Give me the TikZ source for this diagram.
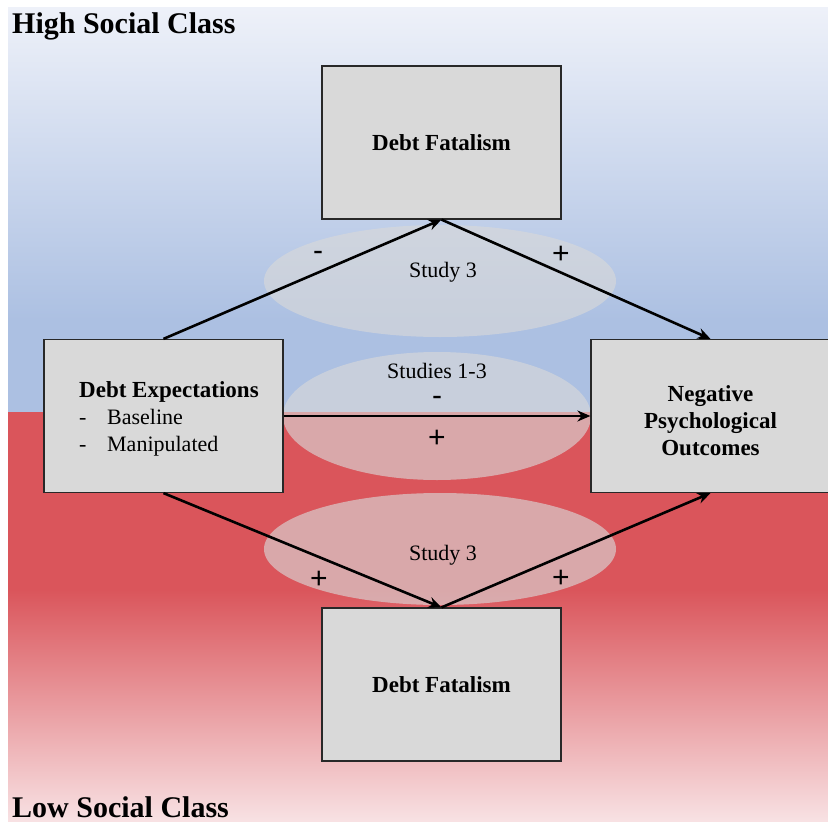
\documentclass[tikz,border=0pt]{standalone}
\usepackage{fontspec}
\setmainfont{Liberation Serif}
\newfontfamily\signfont{Liberation Sans}
\usetikzlibrary{arrows.meta}
\definecolor{bgtop}{RGB}{238,241,249}
\definecolor{bgblue}{RGB}{172,192,226}
\definecolor{bgred}{RGB}{218,85,91}
\definecolor{bgpink}{RGB}{248,226,228}
\definecolor{boxgray}{RGB}{217,217,217}
\definecolor{boxline}{RGB}{40,40,40}
\tikzset{
  box/.style={draw=boxline, line width=1.2pt, fill=boxgray, minimum width=239pt, minimum height=153pt, inner sep=0pt, align=center, font=\fontsize{23}{27}\selectfont\bfseries},
  halo/.style={fill=boxgray, fill opacity=0.63},
  link/.style={line width=2.6pt, -{Stealth[length=13pt,width=11pt]}},
  lbl/.style={font=\fontsize{22}{27}\selectfont, inner sep=0pt},
  sign/.style={font=\fontsize{30}{30}\selectfont\signfont, inner sep=0pt},
  classlbl/.style={font=\fontsize{30}{34}\selectfont\bfseries, inner sep=0pt, anchor=base west}
}
\begin{document}
\begin{tikzpicture}[x=1pt,y=-1pt]
\useasboundingbox (0,0) rectangle (828,822);
\fill[white] (0,0) rectangle (828,822);
% background
\shade[top color=bgtop,bottom color=bgblue] (8,7) rectangle (828,320);
\fill[bgblue] (8,319.5) rectangle (828,412);
\fill[bgred] (8,412) rectangle (828,590);
\shade[top color=bgred,bottom color=bgpink] (8,589.5) rectangle (828,822);
% halos
\fill[halo] (440,281) ellipse [x radius=176, y radius=56];
\fill[halo] (437,416) ellipse [x radius=154, y radius=64];
\fill[halo] (440,549) ellipse [x radius=176, y radius=56];
% boxes
\node[box] (tdf) at (441.5,142.5) {Debt Fatalism};
\node[box] (bdf) at (441.5,684.5) {Debt Fatalism};
\node[box] (de) at (163.5,416) {};
\node[box] (npo) at (710.5,416) {};
\node[lbl, align=center, font=\fontsize{23}{27}\selectfont\bfseries] (npotext) at (710.5,421)
  {Negative\\Psychological\\Outcomes};
\node[lbl, anchor=base west, align=left] (detext) at (79,451)
  {{\fontsize{23}{27}\selectfont\bfseries Debt Expectations}\\\makebox[28pt][l]{-}Baseline\\\makebox[28pt][l]{-}Manipulated};
% connectors
\draw[link] (de.north) -- (tdf.south);
\draw[link] (tdf.south) -- (npo.north);
\draw[link] (de.east) -- (npo.west);
\draw[link] (de.south) -- (bdf.north);
\draw[link] (bdf.north) -- (npo.south);
% labels
\node[lbl] (s3a) at (443,272) {Study 3};
\node[sign] (m1) at (318,256) {-};
\node[sign] (p1) at (561,255) {+};
\node[lbl] (s13) at (437,371) {Studies 1-3};
\node[sign] (m2) at (437,401) {-};
\node[sign] (p2) at (437,439) {+};
\node[lbl] (s3b) at (443,555) {Study 3};
\node[sign] (p3) at (319,580) {+};
\node[sign] (p4) at (561,579) {+};
\node[classlbl] (hsc) at (12,33) {High Social Class};
\node[classlbl] (lsc) at (12,817) {Low Social Class};
\end{tikzpicture}
\end{document}
